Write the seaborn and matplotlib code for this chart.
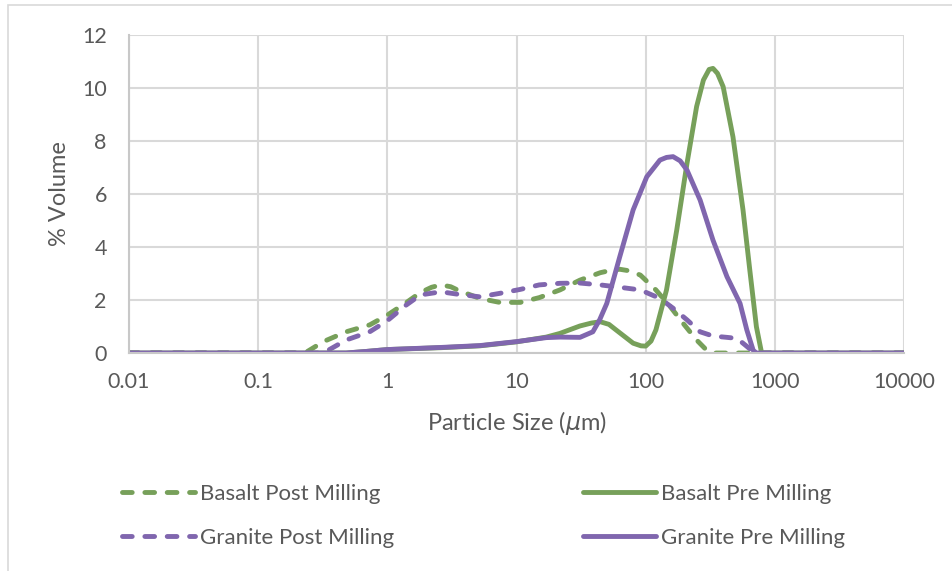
import numpy as np
import pandas as pd
import matplotlib
matplotlib.use("Agg")
import matplotlib.pyplot as plt
import seaborn as sns
from matplotlib.lines import Line2D
from matplotlib.patches import Rectangle

# ---- data ----
basalt_post_x = [0.01, 0.1, 0.23, 0.32, 0.48, 0.73, 1, 1.4, 1.8, 2.2, 2.6, 3.1, 3.6, 5.2, 7.4, 10.7, 15, 21.7, 31,
                 44.5, 55, 63, 75, 91, 120, 155, 195, 248, 296, 332, 1000, 10000]
basalt_post_y = [0, 0, 0, 0.43, 0.8, 1.06, 1.43, 1.9, 2.28, 2.48, 2.57, 2.5, 2.35, 2.06, 1.91, 1.91, 2.09, 2.38, 2.75,
                 3.03, 3.13, 3.16, 3.1, 2.94, 2.38, 1.75, 1.12, 0.49, 0.11, 0, 0, 0]

granite_post_x = [0.01, 0.1, 0.32, 0.48, 0.73, 1, 1.4, 1.8, 2.6, 3.6, 5.2, 7.4, 10.7, 15, 21.7, 31, 44.5,
                  63, 91, 129, 163, 209, 264, 332, 426, 510, 590, 680, 720, 1000, 10000]
granite_post_y = [0, 0, 0, 0.49, 0.8, 1.22, 1.81, 2.19, 2.31, 2.21, 2.12, 2.25, 2.4, 2.57, 2.63, 2.64, 2.57,
                  2.48, 2.38, 2.06, 1.69, 1.25, 0.8, 0.64, 0.59, 0.55, 0.3, 0.05, 0, 0, 0]

basalt_pre_x = [0.01, 0.1, 0.48, 0.69, 1, 2.6, 5.2, 10, 17, 21.7, 31, 38, 44.5, 52, 59, 80, 92, 100, 110, 120, 145, 174,
                209, 248, 280, 310, 332, 360, 398, 474, 567, 640, 720, 790, 1000, 10000]
basalt_pre_y = [0, 0, 0, 0.06, 0.13, 0.2, 0.27, 0.42, 0.6, 0.74, 1.02, 1.13, 1.18, 1.08, 0.87, 0.37, 0.27, 0.26, 0.45, 0.87, 2.38, 4.64,
                7.16, 9.3, 10.3, 10.7, 10.74, 10.55, 10.05, 8.16, 5.4, 3.13, 0.99, 0, 0, 0]

granite_pre_x = [0.01, 0.1, 0.48, 0.69, 1, 2.6, 5.2, 10, 17, 21.7, 31, 39, 44, 50, 63, 80, 102, 129, 145, 163, 185, 209,
                 264, 332, 426, 538, 607, 680, 720, 1000, 10000]
granite_pre_y = [0, 0, 0, 0.06, 0.13, 0.21, 0.28, 0.43, 0.58, 0.6, 0.59, 0.8, 1.25, 1.87, 3.63, 5.4, 6.65, 7.28, 7.38, 7.41, 7.25, 6.9,
                 5.77, 4.26, 2.88, 1.87, 0.87, 0.1, 0, 0, 0]

series_names = ["Basalt Post Milling", "Granite Post Milling", "Basalt Pre Milling", "Granite Pre Milling"]
x_ticks = [0.01, 0.1, 1, 10, 100, 1000, 10000]
x_tick_labels = ["0.01", "0.1", "1", "10", "100", "1000", "10000"]
y_ticks = [0, 2, 4, 6, 8, 10, 12]

GREEN = "#77A05A"
PURPLE = "#8066AE"
GRID = "#D9D9D9"
TEXT = "#595959"

sns.set_theme(style="white")
plt.rcParams["font.family"] = ["Lato", "DejaVu Sans"]

fig = plt.figure(figsize=(9.52, 5.71), dpi=100)
ax = fig.add_axes([129 / 952, 1 - 353 / 571, (904 - 129) / 952, (353 - 35) / 571])

# outer chart border
fig.patches.append(Rectangle((8 / 952, -0.1), 1.2, 1 - 5 / 571 + 0.1, transform=fig.transFigure,
                             fill=False, edgecolor=GRID, linewidth=1.2, zorder=0))

LW = 3.5
DASH = (0, (2.0, 2.6))
specs = [
    (basalt_post_x, basalt_post_y, GREEN, True),
    (granite_post_x, granite_post_y, PURPLE, True),
    (basalt_pre_x, basalt_pre_y, GREEN, False),
    (granite_pre_x, granite_pre_y, PURPLE, False),
]
handles = []
for (xs, ys, col, dashed), name in zip(specs, series_names):
    df = pd.DataFrame({"x": xs, "y": ys})
    sns.lineplot(data=df, x="x", y="y", ax=ax, color=col, linewidth=LW,
                 estimator=None, sort=False)
    line = ax.lines[-1]
    line.set_solid_capstyle("round")
    line.set_solid_joinstyle("round")
    line.set_dash_joinstyle("round")
    if dashed:
        line.set_linestyle(DASH)
        line.set_dash_capstyle("round")
    h = Line2D([], [], color=col, linewidth=LW,
               linestyle=DASH if dashed else "-",
               dash_capstyle="round", solid_capstyle="round")
    handles.append(h)

ax.set_xscale("log")
ax.set_xlim(0.01, 10000)
ax.set_ylim(0, 12)
ax.set_xticks(x_ticks)
ax.set_xticklabels(x_tick_labels)
ax.set_yticks(y_ticks)
ax.minorticks_off()
ax.tick_params(axis="x", length=0, labelsize=15.5, colors=TEXT, pad=14)
ax.tick_params(axis="y", length=0, labelsize=15.5, colors=TEXT, pad=16)
ax.grid(True, color=GRID, linewidth=1.5)
ax.set_axisbelow(True)
for s in ["top", "right"]:
    ax.spines[s].set_visible(False)
for s in ["left", "bottom"]:
    ax.spines[s].set_color("#C8C8C8")
    ax.spines[s].set_linewidth(1.5)

ax.set_xlabel("Particle Size ($\\mu$m)", fontsize=17, color=TEXT)
ax.set_ylabel("% Volume", fontsize=17, color=TEXT)
ax.xaxis.set_label_coords(0.5, (353 - 423) / 318)
ax.xaxis.label.set_va("center")
ax.yaxis.set_label_coords((60 - 129) / 775, 0.5)
ax.yaxis.label.set_va("center")

leg_kw = dict(frameon=False, fontsize=16, handlelength=3.3, handletextpad=0.22,
              labelspacing=1.08, borderpad=0, borderaxespad=0, labelcolor=TEXT)
leg1 = fig.legend([handles[0], handles[1]], [series_names[0], series_names[1]],
                  loc="upper left", bbox_to_anchor=(122 / 952, 1 - 484 / 571), **leg_kw)
leg2 = fig.legend([handles[2], handles[3]], [series_names[2], series_names[3]],
                  loc="upper left", bbox_to_anchor=(583 / 952, 1 - 484 / 571), **leg_kw)

fig.savefig("out.png", dpi=100)
